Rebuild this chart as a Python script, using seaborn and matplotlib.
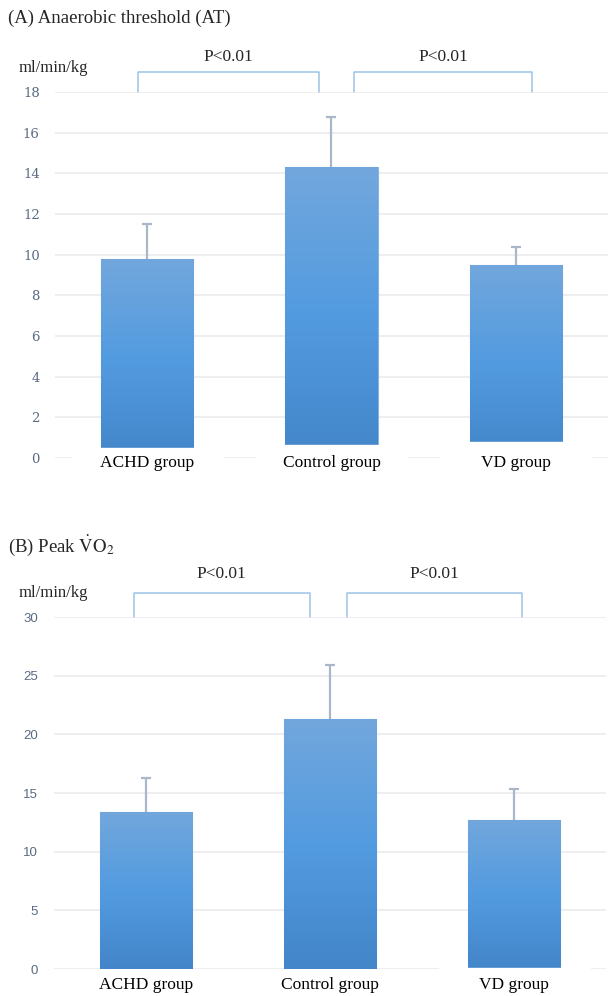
import numpy as np
import seaborn as sns
import matplotlib.pyplot as plt
import pandas as pd
from matplotlib.colors import LinearSegmentedColormap

groups = ["ACHD group", "Control group", "VD group"]
at_mean = [9.8, 14.3, 9.5]
at_sd = [1.7, 2.5, 0.9]
vo2_mean = [13.4, 21.3, 12.7]
vo2_sd = [2.9, 4.6, 2.6]
p_text = ["P<0.01", "P<0.01"]

sns.set_theme(style="white")
plt.rcParams["font.family"] = ["Liberation Serif", "DejaVu Serif"]
plt.rcParams["mathtext.fontset"] = "stix"

BAR_CMAP = LinearSegmentedColormap.from_list(
    "xl", ["#4386c9", "#539be0", "#72a7dc"])
GRID = "#e9e9ec"
ERR = "#aab7c9"
BRACKET = "#9dc3e6"


def gradient_bars(ax):
    grad = np.linspace(0, 1, 256).reshape(-1, 1)
    for patch in ax.patches:
        x0, y0 = patch.get_x(), patch.get_y()
        w, h = patch.get_width(), patch.get_height()
        im = ax.imshow(grad, cmap=BAR_CMAP, origin="lower", aspect="auto",
                       extent=[x0, x0 + w, y0, y0 + h], zorder=2)
        im.set_clip_path(patch)
        patch.set_facecolor("none")
        patch.set_edgecolor("#86b4e4")
        patch.set_linewidth(0.8)


def panel(ax, means, sds, ymax, step, brackets, br_top, txt_y,
          tick_font, tick_size, masks, label_y):
    df = pd.DataFrame({"group": groups, "value": means})
    sns.barplot(data=df, x="group", y="value", ax=ax, width=0.5,
                color="#5b9bd5", saturation=1, errorbar=None, zorder=2)
    gradient_bars(ax)
    x = np.arange(len(groups))
    _, caps, _ = ax.errorbar(x, means, yerr=[np.zeros(len(sds)), sds],
                             fmt="none", ecolor=ERR, elinewidth=1.6,
                             capsize=3.5, capthick=1.6, zorder=3)
    caps[0].set_visible(False)  # upper half only, like the original
    ax.set_xlim(-0.5, 2.5)
    ax.set_ylim(0, ymax)
    ax.set_yticks(np.arange(0, ymax + 0.1, step))
    ax.yaxis.grid(True, color=GRID, lw=1.1)
    ax.set_axisbelow(True)
    for s in ax.spines.values():
        s.set_visible(False)
    ax.tick_params(axis="y", length=0, pad=11, labelsize=tick_size,
                   labelcolor="#5a6a82")
    for lab in ax.get_yticklabels():
        lab.set_family(tick_font)
    ax.set_xticks([])
    ax.set_xlabel("")
    ax.set_ylabel("")
    # white label boxes that sit over the base of the bars
    ax.bar(x, np.array(masks) + ymax * 0.1, bottom=-ymax * 0.1, width=0.82,
           color="white", zorder=4, clip_on=False)
    for i, g in enumerate(groups):
        ax.text(i, label_y, g, ha="center", va="center", fontsize=12.5,
                color="black", zorder=5, clip_on=False)
    for (a, b), t in zip(brackets, p_text):
        ax.plot([a, a, b, b], [ymax, br_top, br_top, ymax], color=BRACKET,
                lw=1.1, clip_on=False, zorder=3)
        ax.text((a + b) / 2, txt_y, t, ha="center", va="center",
                fontsize=12.5, clip_on=False)


fig = plt.figure(figsize=(6.11, 9.96), dpi=100)
ax1 = fig.add_axes([0.09, 0.540, 0.905, 0.3675])
ax2 = fig.add_axes([0.0876, 0.0271, 0.905, 0.3534])

panel(ax1, at_mean, at_sd, 18, 2, [(-0.05, 0.93), (1.12, 2.09)], 19.0, 19.72,
      ["DejaVu Serif"], 9.5, [0.5, 0.63, 0.8], -0.25)
panel(ax2, vo2_mean, vo2_sd, 30, 5, [(-0.065, 0.89), (1.09, 2.04)], 32.05,
      33.67, ["Liberation Sans", "DejaVu Sans"], 9.5, [-0.5, -0.5, 0.1], -1.4)

fig.text(0.013, 0.982, "(A) Anaerobic threshold (AT)", fontsize=13.5,
         va="center", ha="left")
fig.text(0.03, 0.9317, "ml/min/kg", fontsize=12, va="center", ha="left")
fig.text(0.013, 0.452, r"(B) Peak $\dot{\mathrm{V}}\mathrm{O}_{2}$",
         fontsize=13.5, va="center", ha="left")
fig.text(0.03, 0.4046, "ml/min/kg", fontsize=12, va="center", ha="left")

fig.savefig("out.png", dpi=100)
